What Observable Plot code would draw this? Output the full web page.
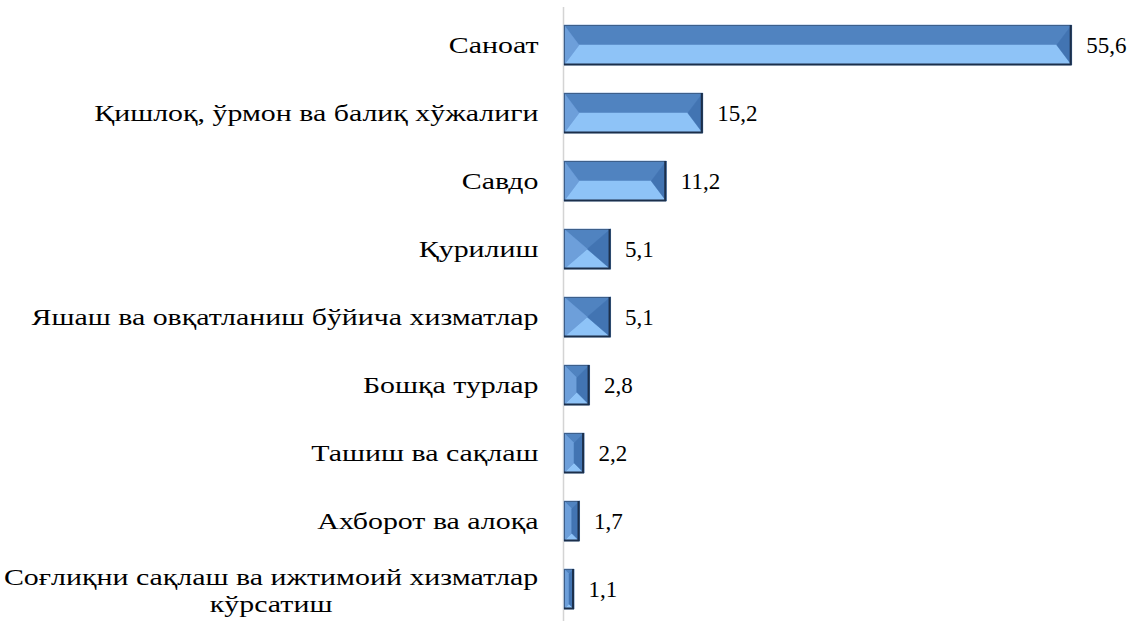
<!DOCTYPE html>
<html><head><meta charset="utf-8">
<script src="https://cdn.jsdelivr.net/npm/d3@7"></script>
<script src="https://cdn.jsdelivr.net/npm/@observablehq/plot@0.6"></script>
<style>
html,body{margin:0;padding:0;background:#fff;}
#chart{width:1142px;height:621px;overflow:hidden;}
</style></head><body><div id="chart"></div>
<script>
const categories = [
  "Саноат",
  "Қишлоқ, ўрмон ва балиқ хўжалиги",
  "Савдо",
  "Қурилиш",
  "Яшаш ва овқатланиш бўйича хизматлар",
  "Бошқа турлар",
  "Ташиш ва сақлаш",
  "Ахборот ва алоқа",
  "Соғлиқни сақлаш ва ижтимоий хизматлар\nкўрсатиш"
];
const values = [55.6, 15.2, 11.2, 5.1, 5.1, 2.8, 2.2, 1.7, 1.1];
const xMax = 63.3;

const data = categories.map((c, i) => ({category: c, value: values[i]}));
const fmt = v => d3.format(".1f")(v).replace(".", ",");
const FONT = '"Liberation Serif", "Times New Roman", Tinos, Times, "DejaVu Serif", serif';
const FS = 23;
const LABEL_GAP = 26;
const STRETCH = 1.3;

const plot = Plot.plot({
  width: 1142, height: 621,
  marginLeft: 564, marginRight: 0, marginTop: 7, marginBottom: -6,
  x: {domain: [0, xMax], axis: null},
  y: {domain: categories, axis: null, padding: 0},
  style: {background: "white", color: "black"},
  marks: [
    Plot.ruleX([0], {stroke: "#d4d4d4", strokeWidth: 1.5, dx: -1}),
    Plot.barX(data, {x: "value", y: "category", fill: "#5b8dc9", insetTop: 14, insetBottom: 14}),
    Plot.text(data, {x: "value", y: "category", text: d => fmt(d.value), textAnchor: "start", dx: 14, fontSize: FS, fontFamily: FONT, fill: "black"}),
    Plot.text(data.filter(d => !d.category.includes("\n")), {x: 0, y: "category", text: "category", textAnchor: "end", dx: -LABEL_GAP, fontSize: FS, fontFamily: FONT, fill: "black"}),
    Plot.text(data.filter(d => d.category.includes("\n")), {x: 0, y: "category", text: "category", textAnchor: "middle", lineHeight: 1.2, fontSize: FS, fontFamily: FONT, fill: "black"})
  ]
});
plot.setAttribute("font-family", FONT);
document.getElementById("chart").append(plot);

// bevel faces drawn from the rects Plot computed
const ns = "http://www.w3.org/2000/svg";
const barG = plot.querySelector('g[aria-label="bar"]');
if (barG) {
  const faceG = document.createElementNS(ns, "g");
  if (barG.getAttribute("transform")) faceG.setAttribute("transform", barG.getAttribute("transform"));
  barG.after(faceG);
  const poly = (pts, fill) => {
    const p = document.createElementNS(ns, "polygon");
    p.setAttribute("points", pts.map(q => q.join(",")).join(" "));
    p.setAttribute("fill", fill);
    p.setAttribute("stroke", fill);
    p.setAttribute("stroke-width", "0.5");
    faceG.append(p);
  };
  barG.querySelectorAll("rect").forEach(r => {
    const x0 = +r.getAttribute("x"), y0 = +r.getAttribute("y");
    const w = +r.getAttribute("width"), h = +r.getAttribute("height");
    const x1 = x0 + w, y1 = y0 + h;
    const dx = w < 60 ? w / 2 : 15;
    const dy = Math.min(h / 2, w / 2);
    const ix0 = x0 + dx, ix1 = x1 - dx, iy0 = y0 + dy, iy1 = y1 - dy;
    poly([[x0, y0], [x1, y0], [ix1, iy0], [ix0, iy0]], "#5083c0");
    poly([[x0, y1], [x1, y1], [ix1, iy1], [ix0, iy1]], "#8ec3f7");
    poly([[x0, y0], [ix0, iy0], [ix0, iy1], [x0, y1]], "#6d9fda");
    poly([[x1, y0], [ix1, iy0], [ix1, iy1], [x1, y1]], "#4274b2");
    if (iy1 > iy0 && ix1 > ix0) poly([[ix0, iy0], [ix1, iy0], [ix1, iy1], [ix0, iy1]], "#6595d0");
    const o = document.createElementNS(ns, "rect");
    o.setAttribute("x", x0 + 0.5); o.setAttribute("y", y0 + 0.5);
    o.setAttribute("width", Math.max(0, w - 1)); o.setAttribute("height", Math.max(0, h - 1));
    o.setAttribute("fill", "none"); o.setAttribute("stroke", "#3d5f8a"); o.setAttribute("stroke-width", "1");
    faceG.append(o);
    const edge = document.createElementNS(ns, "path");
    edge.setAttribute("d", `M${x1 - 1},${y0} V${y1 - 0.5} H${x0}`);
    edge.setAttribute("fill", "none"); edge.setAttribute("stroke", "#1c2f4a"); edge.setAttribute("stroke-width", "2");
    faceG.append(edge);
  });
}

// category labels: widen horizontally like the reference; center the two-line block
const textGroups = plot.querySelectorAll('g[aria-label="text"]');
const parseT = t => {
  const m = /translate\(([-\d.]+),\s*([-\d.]+)\)/.exec(t.getAttribute("transform") || "");
  return m ? [+m[1], +m[2]] : [564, 0];
};
if (textGroups[1]) textGroups[1].querySelectorAll("text").forEach(t => {
  const [tx, ty] = parseT(t);
  t.setAttribute("transform", `translate(${tx},${ty}) scale(${STRETCH},1)`);
});
if (textGroups[2]) textGroups[2].querySelectorAll("text").forEach(t => {
  const bb = t.getBBox();
  const [tx, ty] = parseT(t);
  t.setAttribute("transform", `translate(${tx - LABEL_GAP - bb.width * STRETCH / 2},${ty}) scale(${STRETCH},1)`);
});
</script>
</body></html>
